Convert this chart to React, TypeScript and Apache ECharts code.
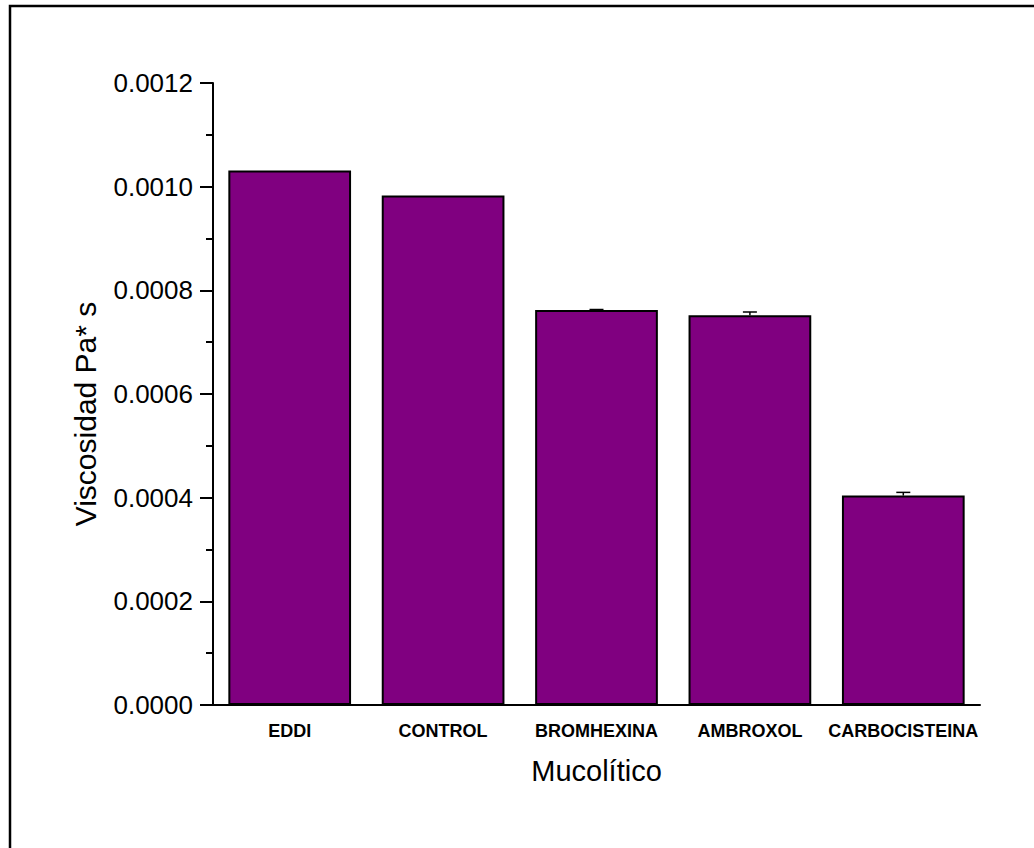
import React, { useEffect, useRef } from "react";
import * as echarts from "echarts";

const categories = ["EDDI", "CONTROL", "BROMHEXINA", "AMBROXOL", "CARBOCISTEINA"];
const viscosity = [0.001031, 0.000983, 0.000762, 0.000752, 0.000404];
const errors = [0, 0, 0.000001, 0.0000062, 0.0000062];
const yTicks = { min: 0, max: 0.0012, interval: 0.0002 };

export default function App() {
  const ref = useRef<HTMLDivElement>(null);
  useEffect(() => {
    if (!ref.current) return;
    const chart = echarts.init(ref.current, null, { renderer: "svg" });
    const font = "'Liberation Sans', Arial, sans-serif";
    chart.setOption({
      animation: false,
      backgroundColor: "#ffffff",
      graphic: [
        {
          type: "rect",
          shape: { x: 10, y: 6, width: 1200, height: 1000 },
          style: { fill: "none", stroke: "#000", lineWidth: 2.5 },
          silent: true,
        },
      ],
      grid: { left: 213, right: 54, top: 83, bottom: 143 },
      xAxis: [
        {
          type: "category",
          data: categories,
          name: "Mucolítico",
          nameLocation: "middle",
          nameGap: 51,
          nameTextStyle: { fontFamily: font, fontSize: 29, color: "#000" },
          axisLine: { lineStyle: { color: "#000", width: 2 } },
          axisTick: { alignWithLabel: true, length: 12, lineStyle: { color: "#000", width: 2 } },
          axisLabel: {
            fontFamily: font,
            fontSize: 18,
            fontWeight: "bold",
            color: "#000",
            margin: 17,
            interval: 0,
          },
          splitLine: { show: false },
        },
        {
          type: "category",
          data: categories,
          position: "bottom",
          axisLine: { show: false },
          axisTick: { length: 7, lineStyle: { color: "#000", width: 2 } },
          axisLabel: { show: false },
          splitLine: { show: false },
        },
      ],
      yAxis: {
        type: "value",
        min: yTicks.min,
        max: yTicks.max,
        interval: yTicks.interval,
        name: "Viscosidad Pa* s",
        nameLocation: "middle",
        nameGap: 113,
        nameTextStyle: { fontFamily: font, fontSize: 30, color: "#000", padding: [0, 40, 0, 0] },
        axisLine: { show: true, lineStyle: { color: "#000", width: 2 } },
        axisTick: { show: true, length: 13, lineStyle: { color: "#000", width: 2 } },
        minorTick: { show: true, splitNumber: 2, length: 7, lineStyle: { color: "#000", width: 2 } },
        axisLabel: {
          fontFamily: font,
          fontSize: 26,
          color: "#000",
          margin: 20,
          formatter: (v: number) => v.toFixed(4),
        },
        splitLine: { show: false },
      },
      series: [
        {
          type: "bar",
          data: viscosity,
          barWidth: "80%",
          itemStyle: { color: "#800080", borderColor: "#000", borderWidth: 2 },
        },
        {
          type: "custom",
          data: viscosity.map((v, i) => [i, v, errors[i]]),
          z: 10,
          renderItem: (params: any, api: any) => {
            const x = api.value(0);
            const v = api.value(1);
            const e = api.value(2);
            if (!e) return null;
            const p0 = api.coord([x, v]);
            const p1 = api.coord([x, v + e]);
            const half = 7;
            const style = { stroke: "#000", lineWidth: 1.5 };
            return {
              type: "group",
              children: [
                { type: "line", shape: { x1: p0[0], y1: p0[1], x2: p1[0], y2: p1[1] }, style },
                { type: "line", shape: { x1: p1[0] - half, y1: p1[1], x2: p1[0] + half, y2: p1[1] }, style },
              ],
            };
          },
        },
      ],
    });
    return () => chart.dispose();
  }, []);
  return (
    <div
      ref={ref}
      style={{ position: "fixed", left: 0, top: 0, width: 1034, height: 848, background: "#fff" }}
    />
  );
}
